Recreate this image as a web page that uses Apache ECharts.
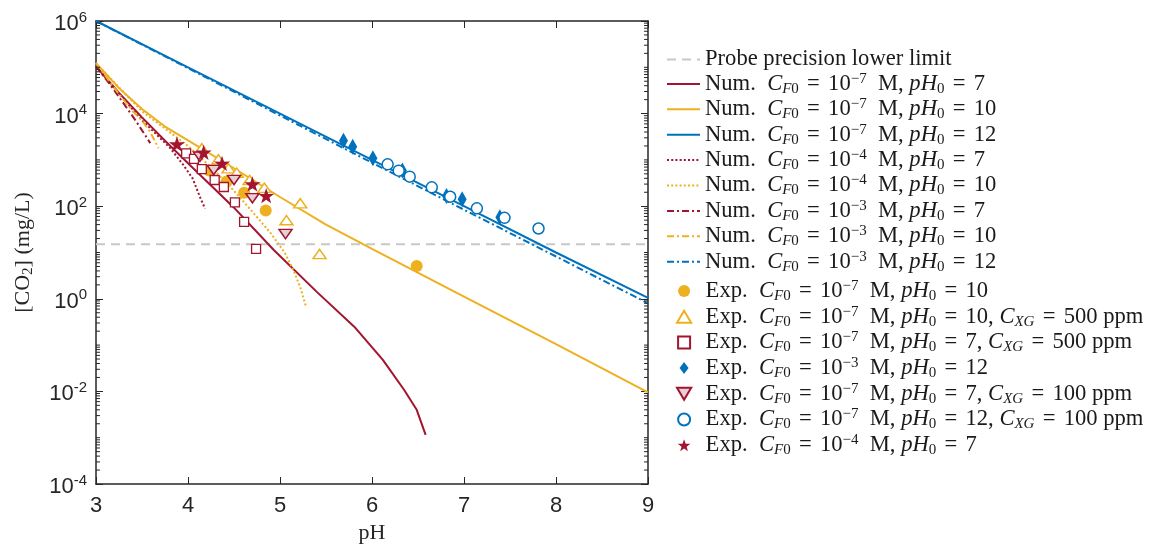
<!DOCTYPE html>
<html><head><meta charset="utf-8">
<script src="https://cdn.jsdelivr.net/npm/echarts@6/dist/echarts.min.js"></script>
<style>html,body{margin:0;padding:0;background:#fff}#c{width:1151px;height:545px}</style>
</head><body><div id="c"></div>
<script>
// ---------- axis ranges / ticks ----------
const xMin = 3, xMax = 9, xInterval = 1;
const yExpMin = -4, yExpMax = 6, yExpInterval = 2;   // labelled decades
const yMin = 1e-4, yMax = 1e6;

// ---------- probe lower limit ----------
const probePH  = [3, 9];
const probeVal = [15, 15];

// ---------- numerical curves ----------
const numR7_pH  = [3.0, 3.25, 3.5, 3.75, 4.0, 4.5, 4.935, 5.4, 5.807, 6.118, 6.35, 6.486, 6.583];
const numR7_val = [1.05e5, 2.8e4, 8.3e3, 2.6e3, 850, 93, 11.2, 1.41, 0.25, 0.048, 0.0107, 0.004, 0.00115];

const numY10_pH  = [3.0, 3.25, 3.5, 3.75, 4.0, 4.5, 5.0, 5.5, 6.0, 7.0, 8.0, 9.0];
const numY10_val = [1.23e5, 3.55e4, 1.26e4, 5.25e3, 2.63e3, 660, 158, 40, 12, 1.12, 0.105, 0.0095];

const numB12_pH  = [3, 4, 5, 6, 7, 8, 9];
const numB12_val = [1e6, 1.0e5, 1.0e4, 1.0e3, 100, 10, 1.05];

const numR7_4_pH  = [3.0, 3.25, 3.5, 3.8, 3.95, 4.05, 4.13, 4.185];
const numR7_4_val = [1.05e5, 2.7e4, 7.2e3, 1.86e3, 776, 398, 158, 89];

const numY10_4_pH  = [3.0, 3.5, 4.0, 4.3, 4.5, 4.7, 4.9, 5.05, 5.15, 5.22, 5.28];
const numY10_4_val = [1.23e5, 1.12e4, 2.0e3, 562, 214, 76, 26, 10, 4.0, 1.78, 0.71];

const numR7_3_pH  = [3.0, 3.15, 3.3, 3.42, 3.52, 3.59];
const numR7_3_val = [1.05e5, 4.3e4, 1.66e4, 7.6e3, 3.8e3, 2.3e3];

const numY10_3_pH  = [3.0, 3.2, 3.4, 3.5, 3.59, 3.68];
const numY10_3_val = [1.23e5, 3.55e4, 1.12e4, 7.1e3, 4.0e3, 1.78e3];

const numB12_3_pH  = [3, 4, 5, 6, 7, 8, 9];
const numB12_3_val = [1e6, 9.6e4, 9.1e3, 870, 84, 8.2, 0.8];

// ---------- experimental points ----------
const expCircY_pH  = [4.23, 4.42, 4.61, 4.845, 6.486];
const expCircY_val = [590, 340, 195, 81, 5.1];

const expTriY_pH  = [4.15, 4.33, 4.44, 4.53, 4.67, 4.83, 5.22, 5.07, 5.43];
const expTriY_val = [1780, 1030, 660, 530, 368, 251, 116, 50, 9.3];

const expSqR_pH  = [3.98, 4.065, 4.15, 4.29, 4.39, 4.51, 4.61, 4.74];
const expSqR_val = [1390, 1050, 630, 368, 260, 121, 46, 12];

const expDiaB_pH  = [5.69, 5.79, 6.01, 6.33, 6.81, 6.98, 7.39];
const expDiaB_val = [2600, 1930, 1085, 590, 166, 141, 58];

const expInvR_pH  = [4.13, 4.28, 4.50, 4.70, 5.06];
const expInvR_val = [1175, 603, 368, 148, 25];

const expCircB_pH  = [6.17, 6.29, 6.41, 6.65, 6.85, 7.14, 7.44, 7.81];
const expCircB_val = [803, 585, 434, 256, 160, 90, 56, 33];

const expStarR_pH  = [3.88, 4.17, 4.37, 4.70, 4.85];
const expStarR_val = [2200, 1460, 843, 302, 169];

// ---------- legend labels ----------
const probeName = 'Probe precision lower limit';
// [kind, exponent of C_F0, pH0, C_XG]
const numLabels = [
  ['Num.', '7', '7', null],
  ['Num.', '7', '10', null],
  ['Num.', '7', '12', null],
  ['Num.', '4', '7', null],
  ['Num.', '4', '10', null],
  ['Num.', '3', '7', null],
  ['Num.', '3', '10', null],
  ['Num.', '3', '12', null]
];
const expLabels = [
  ['Exp.', '7', '10', null],
  ['Exp.', '7', '10', '500'],
  ['Exp.', '7', '7', '500'],
  ['Exp.', '3', '12', null],
  ['Exp.', '7', '7', '100'],
  ['Exp.', '7', '12', '100'],
  ['Exp.', '4', '7', null]
];

// ---------- helpers ----------
const zip = (xs, ys) => xs.map((x, i) => [x, ys[i]]);
const plainName = l => `${l[0]} C_F0 = 10^-${l[1]} M, pH_0 = ${l[2]}` + (l[3] ? `, C_XG = ${l[3]} ppm` : '');
const richName = {};
richName[probeName] = '{n|' + probeName + '}';
[...numLabels, ...expLabels].forEach(l => {
  let s = `{n|${l[0]}  }{i|C}{si|F}{sb|0}{n| }{eq|=}{n| 10}{sp|\u2212${l[1]}}{n|  M, }{i|pH}{sb|0}{n| }{eq|=}{n| ${l[2]}}`;
  if (l[3]) s += `{n|, }{i|C}{si|XG}{n| }{eq|=}{n| ${l[3]} ppm}`;
  richName[plainName(l)] = s;
});

const RED = '#A2142F', YEL = '#EDB120', BLU = '#0072BD', AX = '#262626';
const DOT = [2, 2.2], DASHDOT = [7, 3, 2, 3];
const serifF = 'Liberation Serif', sansF = 'Liberation Sans';

function lineSeries(name, pts, color, type) {
  return {name, type: 'line', data: pts, symbol: 'none', showSymbol: false,
    lineStyle: {color, width: 2, type: type || 'solid'}, itemStyle: {color},
    emphasis: {disabled: true}, animation: false, z: 3};
}
function scatterSeries(name, pts, symbol, size, fill, border, bw) {
  return {name, type: 'scatter', data: pts, symbol, symbolSize: size, symbolKeepAspect: true,
    itemStyle: {color: fill, borderColor: border, borderWidth: bw, opacity: 1},
    emphasis: {disabled: true}, animation: false, z: 5};
}
const STAR = 'path://M50,0 L61.8,35.1 L97.6,34.5 L69.1,56.9 L79.4,90.5 L50,70 L20.6,90.5 L30.9,56.9 L2.4,34.5 L38.2,35.1 Z';
const TRI_UP = 'path://M6.5,0 L13,11 L0,11 Z';
const TRI_DN = 'path://M0,0 L13,0 L6.5,11 Z';
const SQUARE = 'path://M0,0 L8,0 L8,8 L0,8 Z';
const DIAMOND = 'path://M6,0 L12,8 L6,16 L0,8 Z';

const numNames = numLabels.map(plainName);
const expNames = expLabels.map(plainName);

// minor ticks of the log axis (1..9 x 10^k that are not labelled decades)
const minorTickValues = [];
for (let k = yExpMin; k < yExpMax; k++) {
  for (let m = 1; m <= 9; m++) {
    if (m === 1 && (k - yExpMin) % yExpInterval === 0) continue;
    minorTickValues.push(m * Math.pow(10, k));
  }
}

const series = [
  lineSeries(probeName, zip(probePH, probeVal), '#c8c8c8', [9, 6]),
  lineSeries(numNames[0], zip(numR7_pH, numR7_val), RED),
  lineSeries(numNames[1], zip(numY10_pH, numY10_val), YEL),
  lineSeries(numNames[2], zip(numB12_pH, numB12_val), BLU),
  lineSeries(numNames[3], zip(numR7_4_pH, numR7_4_val), RED, DOT),
  lineSeries(numNames[4], zip(numY10_4_pH, numY10_4_val), YEL, DOT),
  lineSeries(numNames[5], zip(numR7_3_pH, numR7_3_val), RED, DASHDOT),
  lineSeries(numNames[6], zip(numY10_3_pH, numY10_3_val), YEL, DASHDOT),
  lineSeries(numNames[7], zip(numB12_3_pH, numB12_3_val), BLU, DASHDOT),
  scatterSeries(expNames[0], zip(expCircY_pH, expCircY_val), 'circle', 12, YEL, YEL, 0),
  scatterSeries(expNames[1], zip(expTriY_pH, expTriY_val), TRI_UP, [13, 11], '#fff', YEL, 1.5),
  scatterSeries(expNames[2], zip(expSqR_pH, expSqR_val), SQUARE, [9, 9], '#fff', RED, 1.3),
  scatterSeries(expNames[3], zip(expDiaB_pH, expDiaB_val), DIAMOND, [12, 16], BLU, BLU, 0),
  scatterSeries(expNames[4], zip(expInvR_pH, expInvR_val), TRI_DN, [13, 11], '#e6d0d5', RED, 1.5),
  scatterSeries(expNames[5], zip(expCircB_pH, expCircB_val), 'circle', 11, '#fff', BLU, 1.5),
  scatterSeries(expNames[6], zip(expStarR_pH, expStarR_val), STAR, 16, RED, RED, 0),
  {
    type: 'custom', silent: true, clip: false, z: 10, animation: false,
    data: minorTickValues.map(v => [xMin, v]),
    encode: {x: 0, y: 1},
    renderItem: (params, api) => {
      const v = api.value(1);
      const l = api.coord([xMin, v]);
      const r = api.coord([xMax, v]);
      return {type: 'group', children: [
        {type: 'line', shape: {x1: l[0], y1: l[1], x2: l[0] + 4, y2: l[1]}, style: {stroke: AX, lineWidth: 1}},
        {type: 'line', shape: {x1: r[0], y1: r[1], x2: r[0] - 4, y2: r[1]}, style: {stroke: AX, lineWidth: 1}}
      ]};
    }
  }
];

const LF = 22.6;
const legendRich = {
  n:  {fontFamily: serifF, fontSize: LF, lineHeight: 25, color: '#1a1a1a'},
  eq: {fontFamily: serifF, fontSize: LF, lineHeight: 25, color: '#1a1a1a', padding: [0, 2.6, 0, 2.6]},
  i:  {fontFamily: serifF, fontSize: LF, lineHeight: 25, fontStyle: 'italic', color: '#1a1a1a'},
  sp: {fontFamily: serifF, fontSize: 15, lineHeight: 12, verticalAlign: 'top', color: '#1a1a1a'},
  si: {fontFamily: serifF, fontSize: 15, lineHeight: 10, verticalAlign: 'bottom', fontStyle: 'italic', color: '#1a1a1a'},
  sb: {fontFamily: serifF, fontSize: 15, lineHeight: 10, verticalAlign: 'bottom', color: '#1a1a1a'}
};
const legendCommon = {
  orient: 'vertical', itemWidth: 33, selectedMode: false, symbolKeepAspect: true,
  formatter: name => richName[name] || name,
  textStyle: {fontFamily: serifF, fontSize: LF, color: '#1a1a1a', rich: legendRich}
};

const axisLineStyle = {show: true, onZero: false, lineStyle: {color: AX, width: 1.5}};
const option = {
  backgroundColor: '#fff',
  animation: false,
  grid: {left: 96, right: 503, top: 21, bottom: 61, containLabel: false, outerBoundsMode: 'none'},
  legend: [
    Object.assign({}, legendCommon, {data: [probeName, ...numNames], left: 661, top: 43, itemHeight: 14, itemGap: 0.4,
      itemStyle: {opacity: 0}}),
    Object.assign({}, legendCommon, {data: expNames, left: 671, top: 273.5, itemHeight: 12, itemGap: 0.7})
  ],
  xAxis: [
    {type: 'value', min: xMin, max: xMax, interval: xInterval, position: 'bottom',
     name: 'pH', nameLocation: 'middle', nameGap: 38, nameMoveOverlap: false,
     nameTextStyle: {fontFamily: serifF, fontSize: 22, color: '#262626'},
     axisLine: axisLineStyle, axisTick: {show: true, inside: true, length: 7, lineStyle: {color: AX, width: 1}},
     axisLabel: {fontFamily: sansF, fontSize: 22, color: AX, margin: 11},
     splitLine: {show: false}},
    {type: 'value', min: xMin, max: xMax, interval: xInterval, position: 'top',
     axisLine: axisLineStyle, axisTick: {show: true, inside: true, length: 7, lineStyle: {color: AX, width: 1}},
     axisLabel: {show: false}, splitLine: {show: false}}
  ],
  yAxis: [
    {type: 'log', logBase: 10, min: yMin, max: yMax, show: false, splitLine: {show: false}},
    {type: 'value', min: yExpMin, max: yExpMax, interval: yExpInterval, position: 'left',
     name: '[CO{sub|2}] (mg/L)', nameLocation: 'middle', nameGap: 60, nameRotate: 90, nameMoveOverlap: false,
     nameTextStyle: {fontFamily: serifF, fontSize: 22, lineHeight: 26, color: '#262626',
       rich: {sub: {fontFamily: serifF, fontSize: 15, lineHeight: 12, verticalAlign: 'bottom', color: '#262626'}}},
     axisLine: axisLineStyle, axisTick: {show: true, inside: true, length: 7, lineStyle: {color: AX, width: 1}},
     axisLabel: {margin: 9, padding: [6, 0, 0, 0], formatter: v => `{b|10}{s|${v}}`,
       rich: {b: {fontFamily: sansF, fontSize: 22, lineHeight: 28, color: AX},
              s: {fontFamily: sansF, fontSize: 15, lineHeight: 12, verticalAlign: 'top', color: AX}}},
     splitLine: {show: false}},
    {type: 'value', min: yExpMin, max: yExpMax, interval: yExpInterval, position: 'right',
     axisLine: axisLineStyle, axisTick: {show: true, inside: true, length: 7, lineStyle: {color: AX, width: 1}},
     axisLabel: {show: false}, splitLine: {show: false}}
  ],
  series: series.map(s => Object.assign({xAxisIndex: 0, yAxisIndex: 0}, s))
};

const chart = echarts.init(document.getElementById('c'), null, {renderer: 'canvas'});
chart.setOption(option);
</script>
</body></html>
